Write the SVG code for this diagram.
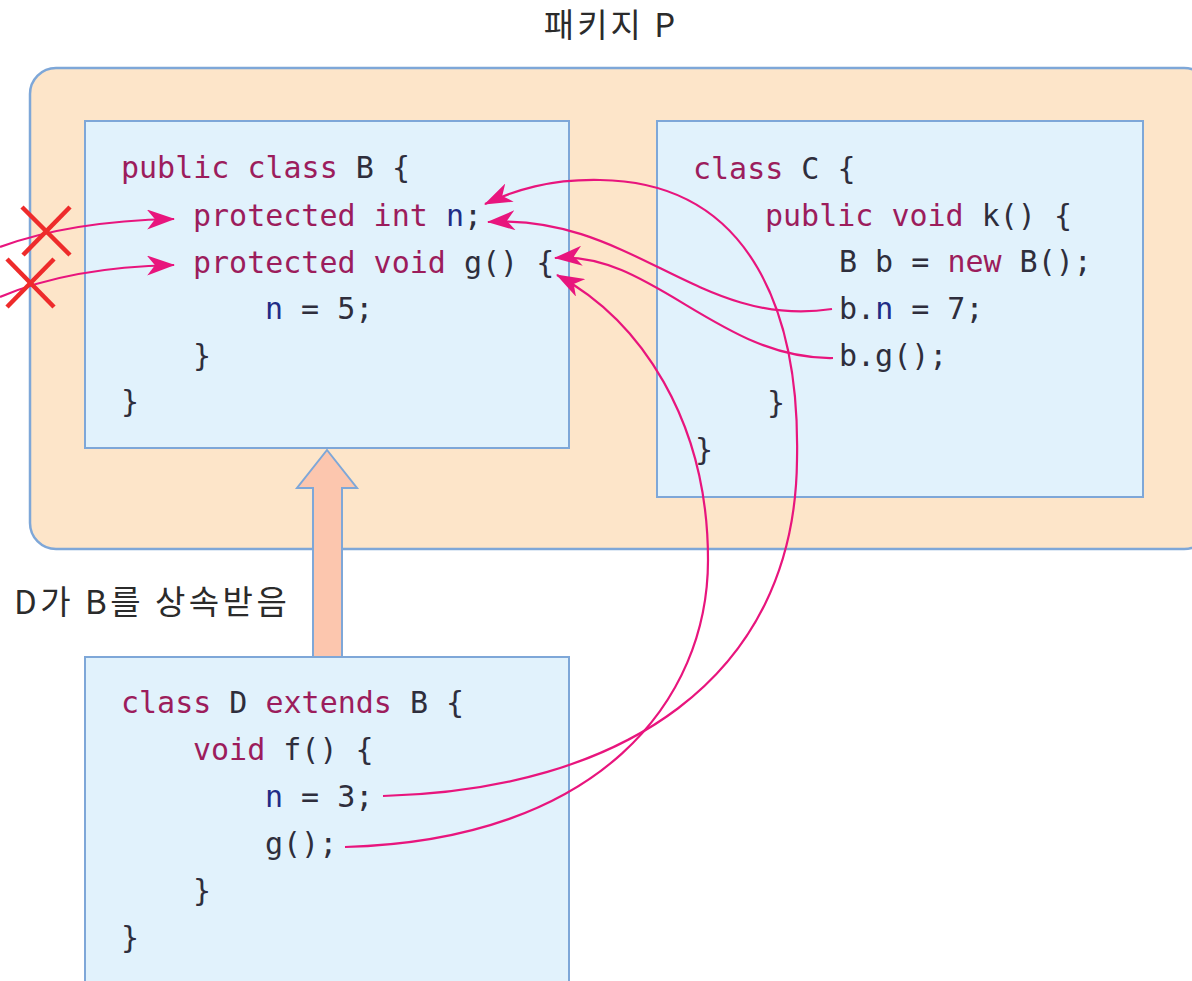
<svg xmlns="http://www.w3.org/2000/svg" width="1192" height="981" viewBox="0 0 1192 981">
<style>
.box{fill:#e1f2fc;stroke:#7ea7d8;stroke-width:2}
.pkg{fill:#fde5c9;stroke:#7ea7d8;stroke-width:2.5}
.code{font-family:"DejaVu Sans Mono","Liberation Mono",monospace;font-size:30px;fill:#2e2e3c}
.kw{fill:#9c1d5c}
.v{fill:#1f2c86}
.lbl{font-family:"Noto Sans CJK KR","Noto Sans",sans-serif;font-size:33px;fill:#2b2b2b}
.con{fill:none;stroke:#e8157d;stroke-width:2.2}
.x{stroke:#ee2b2b;stroke-width:4.5;stroke-linecap:butt}
</style>
<defs>
<marker id="ah" viewBox="0 0 28 20" refX="27" refY="10" markerWidth="28" markerHeight="20" markerUnits="userSpaceOnUse" orient="auto">
<path d="M0,0 L28,10 L0,20 L8,10 Z" fill="#e8157d"/>
</marker>
</defs>
<rect width="1192" height="981" fill="#ffffff"/>
<text class="lbl" x="611" y="37" text-anchor="middle" letter-spacing="3">패키지 P</text>
<g id="package-P">
<rect class="pkg" x="30" y="68" width="1180" height="481" rx="26" ry="26"/>
</g>
<g id="class-B">
<rect class="box" x="85" y="121" width="484" height="327"/>
<text class="code" x="121" y="178"><tspan class="kw">public class</tspan> B {</text>
<text class="code" x="193" y="226"><tspan class="kw">protected int</tspan> <tspan class="v">n</tspan>;</text>
<text class="code" x="193" y="273"><tspan class="kw">protected void</tspan> g() {</text>
<text class="code" x="265" y="319"><tspan class="v">n</tspan> = 5;</text>
<text class="code" x="193" y="366">}</text>
<text class="code" x="121" y="412">}</text>
</g>
<g id="class-C">
<rect class="box" x="657" y="121" width="486" height="376"/>
<text class="code" x="693" y="179"><tspan class="kw">class</tspan> C {</text>
<text class="code" x="765" y="226"><tspan class="kw">public void</tspan> k() {</text>
<text class="code" x="839" y="272">B b = <tspan class="kw">new</tspan> B();</text>
<text class="code" x="839" y="319">b.<tspan class="v">n</tspan> = 7;</text>
<text class="code" x="839" y="366">b.g();</text>
<text class="code" x="767" y="413">}</text>
<text class="code" x="695" y="460">}</text>
</g>
<g id="class-D">
<rect class="box" x="85" y="657" width="484" height="340"/>
<text class="code" x="121" y="713"><tspan class="kw">class</tspan> D <tspan class="kw">extends</tspan> B {</text>
<text class="code" x="193" y="760"><tspan class="kw">void</tspan> f() {</text>
<text class="code" x="265" y="807"><tspan class="v">n</tspan> = 3;</text>
<text class="code" x="265" y="854">g();</text>
<text class="code" x="193" y="901">}</text>
<text class="code" x="121" y="948">}</text>
</g>
<g id="inherit-arrow">
<polygon points="327,450 357,488 342,488 342,657 313,657 313,488 297,488" fill="#fcc6ae" stroke="#7ea7d8" stroke-width="2" stroke-linejoin="miter"/>
<text class="lbl" x="14" y="614" letter-spacing="3.5">D가 B를 상속받음</text>
</g>
<g id="connectors">
<path class="con" d="M0,247 Q70,221 174,219" marker-end="url(#ah)"/>
<path class="con" d="M0,297 Q70,267 174,265" marker-end="url(#ah)"/>
<path class="con" d="M832,309 C700,330 630,213 488,222" marker-end="url(#ah)"/>
<path class="con" d="M833,358 C720,360 650,250 555,258" marker-end="url(#ah)"/>
<path class="con" d="M383,796 C620,790 795,680 797,460 C800,320 755,182 600,180 C550,179 515,190 485,204" marker-end="url(#ah)"/>
<path class="con" d="M345,847 C600,840 708,700 708,560 C708,420 640,320 557,275" marker-end="url(#ah)"/>
</g>
<g id="x-marks">
<line class="x" x1="22" y1="207" x2="70" y2="255"/>
<line class="x" x1="70" y1="207" x2="23" y2="255"/>
<line class="x" x1="7" y1="259" x2="54" y2="307"/>
<line class="x" x1="54" y1="259" x2="7" y2="307"/>
</g>
</svg>
